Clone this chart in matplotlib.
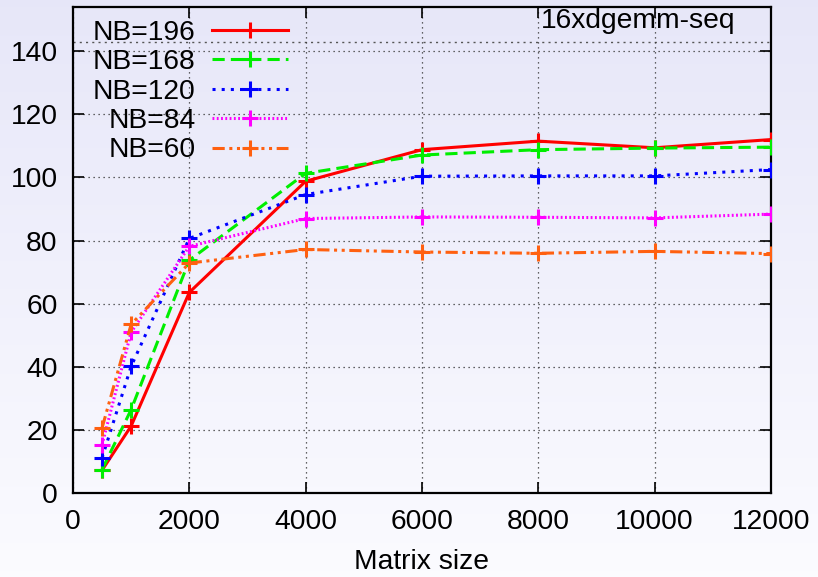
import numpy as np
import matplotlib
matplotlib.use("Agg")
import matplotlib.pyplot as plt

plt.rcParams["font.family"] = ["Liberation Sans", "DejaVu Sans"]
plt.rcParams["font.size"] = 20.3

# matrix sizes and GFlop/s for each block size
sizes = [500, 1000, 2000, 4000, 6000, 8000, 10000, 12000]
nb196 = [7.3, 21.3, 63.6, 98.8, 108.8, 111.5, 109.4, 112.0]
nb168 = [7.5, 26.5, 73.8, 101.3, 107.1, 108.8, 109.3, 109.6]
nb120 = [11.2, 40.2, 80.7, 94.6, 100.4, 100.5, 100.5, 102.5]
nb84 = [15.4, 51.0, 78.2, 87.0, 87.5, 87.4, 87.2, 88.4]
nb60 = [20.7, 53.5, 72.9, 77.2, 76.4, 76.0, 76.6, 75.9]
peak = 143.0

series = [
    ("NB=196", nb196, "#ff0000", "-"),
    ("NB=168", nb168, "#00ee00", (0, (4, 2))),
    ("NB=120", nb120, "#0000ff", (0, (1, 2))),
    ("NB=84", nb84, "#ff00ff", (0, (0.6, 0.8))),
    ("NB=60", nb60, "#ff6010", (0, (4, 1.5, 1, 1.5, 1, 1.5))),
]

fig = plt.figure(figsize=(8.18, 5.77), dpi=100)

# lavender gradient behind everything
bg = fig.add_axes([0, 0, 1, 1], zorder=-10)
grad = np.linspace(0, 1, 256).reshape(-1, 1)
top = np.array([0.905, 0.905, 0.975])
bot = np.array([0.985, 0.985, 1.0])
img = top + (bot - top) * grad[:, :, None]
bg.imshow(img, aspect="auto", extent=[0, 1, 0, 1], origin="upper")
bg.set_axis_off()

ax = fig.add_axes([0.0892, 0.145, 0.8533, 0.8425])
ax.patch.set_alpha(0)

ax.axhline(peak, color="#555555", lw=1.0, ls=(0, (1.5, 3)), zorder=1)

for label, vals, col, ls in series:
    ax.plot(sizes, vals, color=col, ls=ls, lw=2.2, marker="+", ms=11,
            mew=2.2, label=label, zorder=3)

ax.set_xlim(0, 12000)
ax.set_ylim(0, 153.9)
ax.set_xticks(range(0, 12001, 2000))
ax.set_yticks(range(0, 141, 20))
ax.grid(True, color="#333333", lw=0.9, ls=(0, (1, 3)))
ax.tick_params(direction="in", length=8, width=1.2, top=True, right=True,
               pad=11)
ax.tick_params(axis="x", pad=11)
for s in ax.spines.values():
    s.set_linewidth(1.6)

ax.set_xlabel("Matrix size", labelpad=10)
ax.text(0.81, 0.998, "16xdgemm-seq", transform=ax.transAxes, ha="center",
        va="top")

ax.legend(loc="upper right", bbox_to_anchor=(0.308, 0.974), markerfirst=False,
          frameon=False, borderpad=0.0, borderaxespad=0.0, handlelength=2.69,
          handletextpad=0.58, labelspacing=0.12)

fig.savefig("out.png", dpi=100)
